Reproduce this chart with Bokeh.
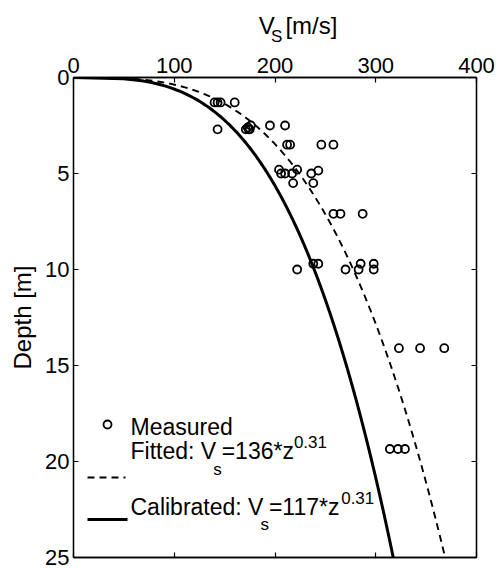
import numpy as np
from bokeh.plotting import figure
from bokeh.layouts import column
from bokeh.models import Range1d, LinearAxis, FixedTicker, Label, CustomLabelingPolicy
from bokeh.embed import file_html
from bokeh.resources import INLINE

# ---------------- data ----------------
vs_measured = [140, 143, 146, 160, 143, 171, 174, 176, 173, 175, 195, 210,
               212, 215, 246, 258, 204, 206, 210, 222, 217, 218, 236, 238,
               243, 258, 265, 287, 222, 238, 243, 270, 283, 285, 298, 298,
               323, 344, 368, 314, 322, 329]
depth_measured = [1.3, 1.3, 1.3, 1.3, 2.7, 2.7, 2.7, 2.5, 2.6, 2.7, 2.5, 2.5,
                  3.5, 3.5, 3.5, 3.5, 4.8, 5.0, 5.0, 4.8, 5.0, 5.5, 5.0, 5.5,
                  4.85, 7.1, 7.1, 7.1, 10.0, 9.7, 9.7, 10.0, 10.0, 9.7, 9.7, 10.0,
                  14.1, 14.1, 14.1, 19.35, 19.35, 19.35]
fit_coef = 136
cal_coef = 117
exponent = 0.31
x_ticks = [0, 100, 200, 300, 400]
y_ticks = [0, 5, 10, 15, 20, 25]

FONT = "Liberation Sans"
W, H = 496, 569
HT = 47                      # height of the strip holding the top axis title
L, R, T, B = 73, 20, 77, 12  # frame borders in full-page pixels
SHIFT = 0.3                  # baseline correction (fraction of font size)

ARIAL = {' ': 278, ':': 278, '=': 584, '*': 389, '.': 278, 'F': 611, 'i': 222,
         't': 278, 'e': 556, 'd': 556, 'V': 667, 's': 500, 'z': 500, 'C': 722,
         'a': 556, 'l': 222, 'b': 556, 'r': 333, 'S': 667, '[': 278, ']': 278,
         'm': 833, '/': 278, 'M': 833, 'u': 556, 'D': 722, 'p': 556, 'h': 556}

def tw(s, size):
    return sum(ARIAL.get(c, 556) for c in s) / 1000 * size

# ---------------- title strip (axis title with subscript) ----------------
t = figure(width=W, height=HT, x_range=Range1d(0, W), y_range=Range1d(HT, 0),
           title=None, x_axis_location=None, y_axis_location=None, output_backend="svg",
           toolbar_location=None, min_border=0)
t.grid.visible = False
t.outline_line_color = None
t.background_fill_color = "white"
t.border_fill_color = "white"

def ttxt(s, px, py, size):
    t.add_layout(Label(x=px, y=py - SHIFT * size, text=s, text_font=FONT,
                       text_font_size=f"{size}px", text_baseline="alphabetic",
                       text_align="left", text_color="black"))

x = 228
for s, size, off, gap in [("V", 24, 0, 0), ("S", 17, 9, -1), ("[m/s]", 24, 0, 6.5)]:
    x += gap
    ttxt(s, x, 32 + off, size)
    x += tw(s, size)

# ---------------- main plot ----------------
PH = H - HT
p = figure(width=W, height=PH, x_range=Range1d(0, 400), y_range=Range1d(25, 0),
           title=None, x_axis_location="above", output_backend="svg", toolbar_location=None,
           min_border_left=L, min_border_right=R, min_border_top=T - HT, min_border_bottom=B)
p.grid.visible = False
p.outline_line_color = "black"
p.outline_line_width = 1.3
p.background_fill_color = "white"
p.border_fill_color = "white"

hide_labels = CustomLabelingPolicy(code="for (const i of indices) indices.unset(i); return indices")

def style_axis(ax, ticks, labels=True):
    ax.ticker = FixedTicker(ticks=ticks)
    ax.axis_line_color = "black"
    ax.axis_line_width = 1.3
    ax.major_tick_in = 5
    ax.major_tick_out = 0
    ax.major_tick_line_width = 1.2
    ax.minor_tick_line_color = None
    if labels:
        ax.major_label_text_font = FONT
        ax.major_label_text_font_size = "22px"
        ax.major_label_text_color = "black"
    else:
        ax.major_label_policy = hide_labels
        ax.major_label_text_font_size = "1px"
        ax.major_label_standoff = 0

style_axis(p.xaxis[0], x_ticks)
p.xaxis[0].major_label_standoff = 5
style_axis(p.yaxis[0], y_ticks)
p.yaxis[0].major_label_standoff = 4
p.yaxis[0].axis_label = "Depth [m]"
p.yaxis[0].axis_label_text_font = FONT
p.yaxis[0].axis_label_text_font_size = "24px"
p.yaxis[0].axis_label_text_font_style = "normal"
p.yaxis[0].axis_label_text_color = "black"
p.yaxis[0].axis_label_standoff = 6

bottom_ax = LinearAxis()
style_axis(bottom_ax, x_ticks, labels=False)
p.add_layout(bottom_ax, "below")
right_ax = LinearAxis()
style_axis(right_ax, y_ticks, labels=False)
p.add_layout(right_ax, "right")

# pixel-space ranges (page pixels) for the legend keys
p.extra_x_ranges = {"px": Range1d(L, W - R)}
p.extra_y_ranges = {"py": Range1d(H - B, T)}

z = np.linspace(0, 25, 400)
p.line(fit_coef * z ** exponent, z, line_color="black", line_width=1.9, line_dash="7 5")
p.line(cal_coef * z ** exponent, z, line_color="black", line_width=3)
p.scatter(vs_measured, depth_measured, marker="circle", size=8,
          fill_color=None, line_color="black", line_width=1.8)

# legend keys
p.scatter([107], [424], x_range_name="px", y_range_name="py", marker="circle", size=8,
          fill_color=None, line_color="black", line_width=1.8)
p.line([87, 125], [477, 477], x_range_name="px", y_range_name="py",
       line_color="black", line_width=1.9, line_dash="7 5")
p.line([87, 127], [519, 519], x_range_name="px", y_range_name="py",
       line_color="black", line_width=3)

def txt(s, px, py, size):
    p.add_layout(Label(x=px, y=py - SHIFT * size, x_range_name="px", y_range_name="py",
                       text=s, text_font=FONT, text_font_size=f"{size}px",
                       text_baseline="alphabetic", text_align="left", text_color="black"))

def chain(pieces, x0, base):
    x = x0
    for s, size, off, gap in pieces:
        x += gap
        txt(s, x, base + off, size)
        x += tw(s, size)

txt("Measured", 130, 433, 23)
chain([("Fitted: V", 23, 0, 0), ("s", 17, 17, -3), (f"={fit_coef}*z", 23, 0, 0),
       (f"{exponent}", 17, -10, 0)], 130, 457)
chain([("Calibrated: V", 23, 0, 0), ("s", 17, 16, -3), (f"={cal_coef}*z", 23, 0, 0),
       (f"{exponent}", 17, -10, 0)], 130, 513)

layout = column(t, p, spacing=0)
open("out.html", "w").write(file_html(layout, INLINE))
